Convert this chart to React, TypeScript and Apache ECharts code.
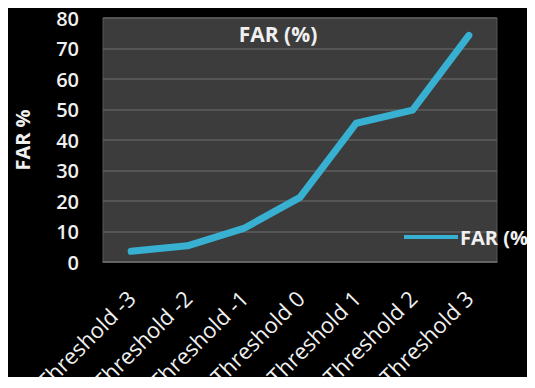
import React, { useEffect, useRef } from "react";
import * as echarts from "echarts";

const categories = [
  "Threshold -3",
  "Threshold -2",
  "Threshold -1",
  "Threshold 0",
  "Threshold 1",
  "Threshold 2",
  "Threshold 3",
];
const farValues = [3.5, 5.3, 11, 21.2, 45.5, 49.8, 74.3];
const seriesName = "FAR (%)";
const yAxisName = "FAR %";

const FONT = "'Open Sans', 'DejaVu Sans', sans-serif";
const TEXT = "#f0f0f0";

// The canvas is a bit wider than its frame so the legend label can run to the frame's edge.
const FRAME_W = 527;
const FRAME_H = 377;
const CANVAS_W = 570;

export default function App() {
  const ref = useRef<HTMLDivElement>(null);

  useEffect(() => {
    if (!ref.current) return;
    const chart = echarts.init(ref.current, undefined, { renderer: "svg" });
    chart.setOption({
      animation: false,
      backgroundColor: "#000000",
      title: {
        text: seriesName,
        left: 265,
        top: 10,
        textAlign: "center",
        textStyle: { color: TEXT, fontFamily: FONT, fontSize: 21, fontWeight: "bold" },
      },
      legend: {
        data: [seriesName],
        left: 391,
        top: 214,
        icon: "rect",
        itemWidth: 54,
        itemHeight: 4,
        itemGap: 0,
        textStyle: { color: TEXT, fontFamily: FONT, fontSize: 20, fontWeight: "bold", padding: [0, 0, 0, -3] },
      },
      grid: {
        left: 95,
        right: CANVAS_W - FRAME_W + 38,
        top: 10,
        bottom: 123,
        show: true,
        backgroundColor: "#3c3c3c",
        borderColor: "#575757",
        borderWidth: 1,
        containLabel: false,
        outerBoundsMode: "none",
      },
      xAxis: {
        type: "category",
        data: categories,
        boundaryGap: true,
        axisLine: { show: true, lineStyle: { color: "#6a6a6a", width: 1.5 } },
        axisTick: { show: false },
        axisLabel: {
          rotate: 45,
          margin: 32,
          color: TEXT,
          fontFamily: FONT,
          fontSize: 22,
          interval: 0,
        },
      },
      yAxis: {
        type: "value",
        min: 0,
        max: 80,
        interval: 10,
        name: yAxisName,
        nameLocation: "middle",
        nameGap: 71,
        nameRotate: 90,
        nameTextStyle: { color: TEXT, fontFamily: FONT, fontSize: 20, fontWeight: "bold" },
        axisLine: { show: false },
        axisTick: { show: false },
        axisLabel: {
          margin: 24,
          color: TEXT,
          fontFamily: FONT,
          fontSize: 20,
          fontWeight: 600,
        },
        splitLine: { show: true, lineStyle: { color: "#5e5e5e", width: 1.5 } },
      },
      series: [
        {
          name: seriesName,
          type: "line",
          data: farValues,
          symbol: "none",
          lineStyle: { color: "#38b0d2", width: 7, cap: "round", join: "round" },
          itemStyle: { color: "#38b0d2" },
        },
      ],
    });
    return () => chart.dispose();
  }, []);

  return (
    <div style={{ width: FRAME_W, height: FRAME_H, overflow: "hidden", marginBottom: -8 }}>
      <div ref={ref} style={{ width: CANVAS_W, height: FRAME_H }} />
    </div>
  );
}
